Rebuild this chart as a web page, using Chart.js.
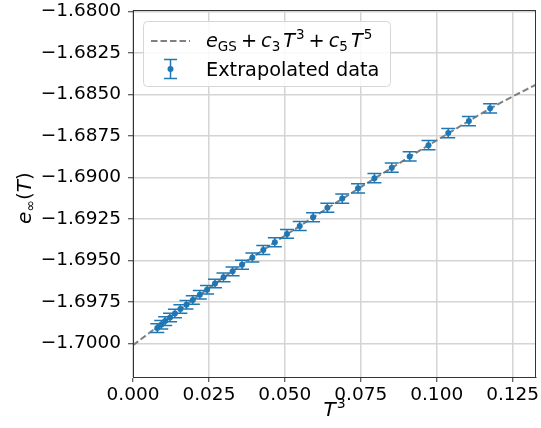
<!DOCTYPE html>
<html>
<head>
<meta charset="utf-8">
<script src="https://cdn.jsdelivr.net/npm/chart.js@4"></script>
<style>
html, body { margin: 0; padding: 0; background: #fff; }
</style>
</head>
<body>
<canvas id="myChart" width="541" height="428"></canvas>
<script>
// values
const tCubed = [0.0080, 0.0093, 0.0106, 0.0122, 0.0138, 0.0156, 0.0176, 0.0197, 0.0220, 0.0244,
                0.0270, 0.0298, 0.0328, 0.0359, 0.0393, 0.0429, 0.0467, 0.0507, 0.0549, 0.0593,
                0.0640, 0.0689, 0.0741, 0.0795, 0.0852, 0.0911, 0.0973, 0.1038, 0.1106, 0.1176];
const energy = [-1.69908, -1.69888, -1.69866, -1.69844, -1.69820, -1.69793, -1.69767, -1.69739, -1.69707, -1.69677,
                -1.69639, -1.69602, -1.69566, -1.69526, -1.69482, -1.69437, -1.69391, -1.69340, -1.69292, -1.69240,
                -1.69183, -1.69127, -1.69065, -1.69004, -1.68941, -1.68873, -1.68805, -1.68732, -1.68660, -1.68583];
const energyErr = [0.00026, 0.00026, 0.00026, 0.00026, 0.00026, 0.00026, 0.00026, 0.00026, 0.00026, 0.00026,
                   0.00026, 0.00026, 0.00027, 0.00027, 0.00027, 0.00027, 0.00027, 0.00027, 0.00027, 0.00027,
                   0.00027, 0.00028, 0.00028, 0.00028, 0.00028, 0.00028, 0.00028, 0.00028, 0.00028, 0.00028];

// dashed fit curve, read at a few x positions
const fitX = [0, 0.02, 0.04, 0.06, 0.08, 0.10, 0.12, 0.1327];
const fitY = [-1.70012, -1.69734, -1.69473, -1.69233, -1.69001, -1.68776, -1.68560, -1.68440];

const xTicks = [0, 0.025, 0.05, 0.075, 0.1, 0.125];
const yTicks = [-1.7, -1.6975, -1.695, -1.6925, -1.69, -1.6875, -1.685, -1.6825, -1.68];

const blue = '#1f77b4';
const fontFam = '"DejaVu Sans", sans-serif';
const tickSize = 18.5;
const legSize = 19.3;
const titleSize = 20;

const drawRich = (ctx, parts, x, y, size) => {
    let cx = x;
    parts.forEach(p => {
        const s = (p.sub || p.sup) ? size * 0.7 : size;
        ctx.font = (p.it ? 'italic ' : '') + s + 'px ' + fontFam;
        const dy = p.sub ? size * 0.22 : (p.sup ? -size * 0.4 : 0);
        ctx.fillText(p.t, cx, y + dy);
        cx += ctx.measureText(p.t).width + (p.gap || 0);
    });
    return cx - x;
};
const richWidth = (ctx, parts, size) => {
    let w = 0;
    parts.forEach(p => {
        const s = (p.sub || p.sup) ? size * 0.7 : size;
        ctx.font = (p.it ? 'italic ' : '') + s + 'px ' + fontFam;
        w += ctx.measureText(p.t).width + (p.gap || 0);
    });
    return w;
};

const fitLabel = [
    {t: 'e', it: 1}, {t: 'GS', sub: 1, gap: 4}, {t: '+', gap: 4},
    {t: 'c', it: 1}, {t: '3', sub: 1, gap: 3}, {t: 'T', it: 1, gap: 1}, {t: '3', sup: 1, gap: 4}, {t: '+', gap: 4},
    {t: 'c', it: 1}, {t: '5', sub: 1, gap: 3}, {t: 'T', it: 1, gap: 1}, {t: '5', sup: 1}
];
const yLabel = [{t: 'e', it: 1}, {t: '\u221e', sub: 1}, {t: '('}, {t: 'T', it: 1}, {t: ')'}];
const xLabel = [{t: 'T', it: 1, gap: 1}, {t: '3', sup: 1}];

const drawCap = (ctx, x, y0, y1, half) => {
    ctx.beginPath();
    ctx.moveTo(x, y0); ctx.lineTo(x, y1);
    ctx.moveTo(x - half, y0); ctx.lineTo(x + half, y0);
    ctx.moveTo(x - half, y1); ctx.lineTo(x + half, y1);
    ctx.stroke();
};

const extras = {
    id: 'extras',
    afterDatasetsDraw(chart) {
        const ctx = chart.ctx, xs = chart.scales.x, ys = chart.scales.y;
        ctx.save();
        ctx.strokeStyle = blue;
        ctx.lineWidth = 1.5;
        tCubed.forEach((v, i) => {
            const px = xs.getPixelForValue(v);
            drawCap(ctx, px, ys.getPixelForValue(energy[i] + energyErr[i]),
                    ys.getPixelForValue(energy[i] - energyErr[i]), 7);
        });
        ctx.restore();
    },
    afterDraw(chart) {
        const ctx = chart.ctx, a = chart.chartArea;
        ctx.save();
        // frame
        ctx.strokeStyle = '#333';
        ctx.lineWidth = 1;
        ctx.strokeRect(a.left + 0.5, a.top + 0.5, a.right - a.left - 1, a.bottom - a.top);

        // legend
        const lx = a.left + 10, ly = a.top + 11, lw = 247, lh = 65;
        ctx.beginPath();
        ctx.roundRect(lx + 0.5, ly + 0.5, lw, lh, 4);
        ctx.fillStyle = 'rgba(255,255,255,0.85)';
        ctx.fill();
        ctx.strokeStyle = '#d6d6d6';
        ctx.lineWidth = 1;
        ctx.stroke();

        ctx.strokeStyle = 'gray';
        ctx.lineWidth = 2;
        ctx.setLineDash([6.5, 3]);
        ctx.beginPath();
        ctx.moveTo(lx + 8, ly + 20); ctx.lineTo(lx + 47, ly + 20);
        ctx.stroke();
        ctx.setLineDash([]);

        ctx.strokeStyle = blue;
        ctx.lineWidth = 1.5;
        drawCap(ctx, lx + 27.5, ly + 38.5, ly + 57.5, 6.5);
        ctx.fillStyle = blue;
        ctx.beginPath();
        ctx.arc(lx + 27.5, ly + 48, 3, 0, Math.PI * 2);
        ctx.fill();

        ctx.fillStyle = '#000';
        ctx.textBaseline = 'alphabetic';
        ctx.textAlign = 'left';
        drawRich(ctx, fitLabel, lx + 63, ly + 26, legSize);
        ctx.font = legSize + 'px ' + fontFam;
        ctx.fillText('Extrapolated data', lx + 63, ly + 55);

        // axis titles
        const xw = richWidth(ctx, xLabel, titleSize);
        drawRich(ctx, xLabel, (a.left + a.right) / 2 - xw / 2, 416, titleSize);
        ctx.translate(31, 198);
        ctx.rotate(-Math.PI / 2);
        const yw = richWidth(ctx, yLabel, titleSize);
        drawRich(ctx, yLabel, -yw / 2, 0, titleSize);
        ctx.restore();
    }
};

const ctx = document.getElementById('myChart').getContext('2d');
const myChart = new Chart(ctx, {
    data: {
        datasets: [{
            type: 'line',
            label: 'fit',
            data: fitX.map((v, i) => ({x: v, y: fitY[i]})),
            borderColor: 'gray',
            borderWidth: 2,
            borderDash: [6.5, 3],
            pointRadius: 0,
            cubicInterpolationMode: 'monotone',
            fill: false,
            order: 2
        }, {
            type: 'scatter',
            label: 'Extrapolated data',
            data: tCubed.map((v, i) => ({x: v, y: energy[i]})),
            backgroundColor: blue,
            borderWidth: 0,
            pointRadius: 3,
            order: 1
        }]
    },
    options: {
        responsive: false,
        animation: false,
        devicePixelRatio: 1,
        layout: { autoPadding: false, padding: { top: 10, right: 5, left: 0, bottom: 0 } },
        plugins: {
            legend: { display: false },
            tooltip: { enabled: false }
        },
        scales: {
            x: {
                type: 'linear',
                min: 0,
                max: 0.1327,
                afterBuildTicks: s => { s.ticks = xTicks.map(v => ({value: v})); },
                afterFit: s => { s.height = 51; s.paddingLeft = 0; s.paddingRight = 0; },
                ticks: {
                    callback: v => v.toFixed(3),
                    color: '#000',
                    font: { family: fontFam, size: tickSize },
                    padding: 2,
                    maxRotation: 0,
                    autoSkip: false
                },
                grid: { color: '#d4d4d4', lineWidth: 1.5, tickLength: 5, tickColor: '#333', tickWidth: 1 },
                border: { color: '#333', width: 1 }
            },
            y: {
                type: 'linear',
                min: -1.70203,
                max: -1.6799,
                afterBuildTicks: s => { s.ticks = yTicks.map(v => ({value: v})); },
                afterFit: s => { s.width = 133; s.paddingTop = 0; s.paddingBottom = 0; },
                ticks: {
                    callback: v => '\u2212' + Math.abs(v).toFixed(4),
                    color: '#000',
                    font: { family: fontFam, size: tickSize },
                    padding: 7,
                    autoSkip: false
                },
                grid: { color: '#d4d4d4', lineWidth: 1.5, tickLength: 5, tickColor: '#333', tickWidth: 1 },
                border: { color: '#333', width: 1 }
            }
        }
    },
    plugins: [extras]
});
</script>
</body>
</html>
